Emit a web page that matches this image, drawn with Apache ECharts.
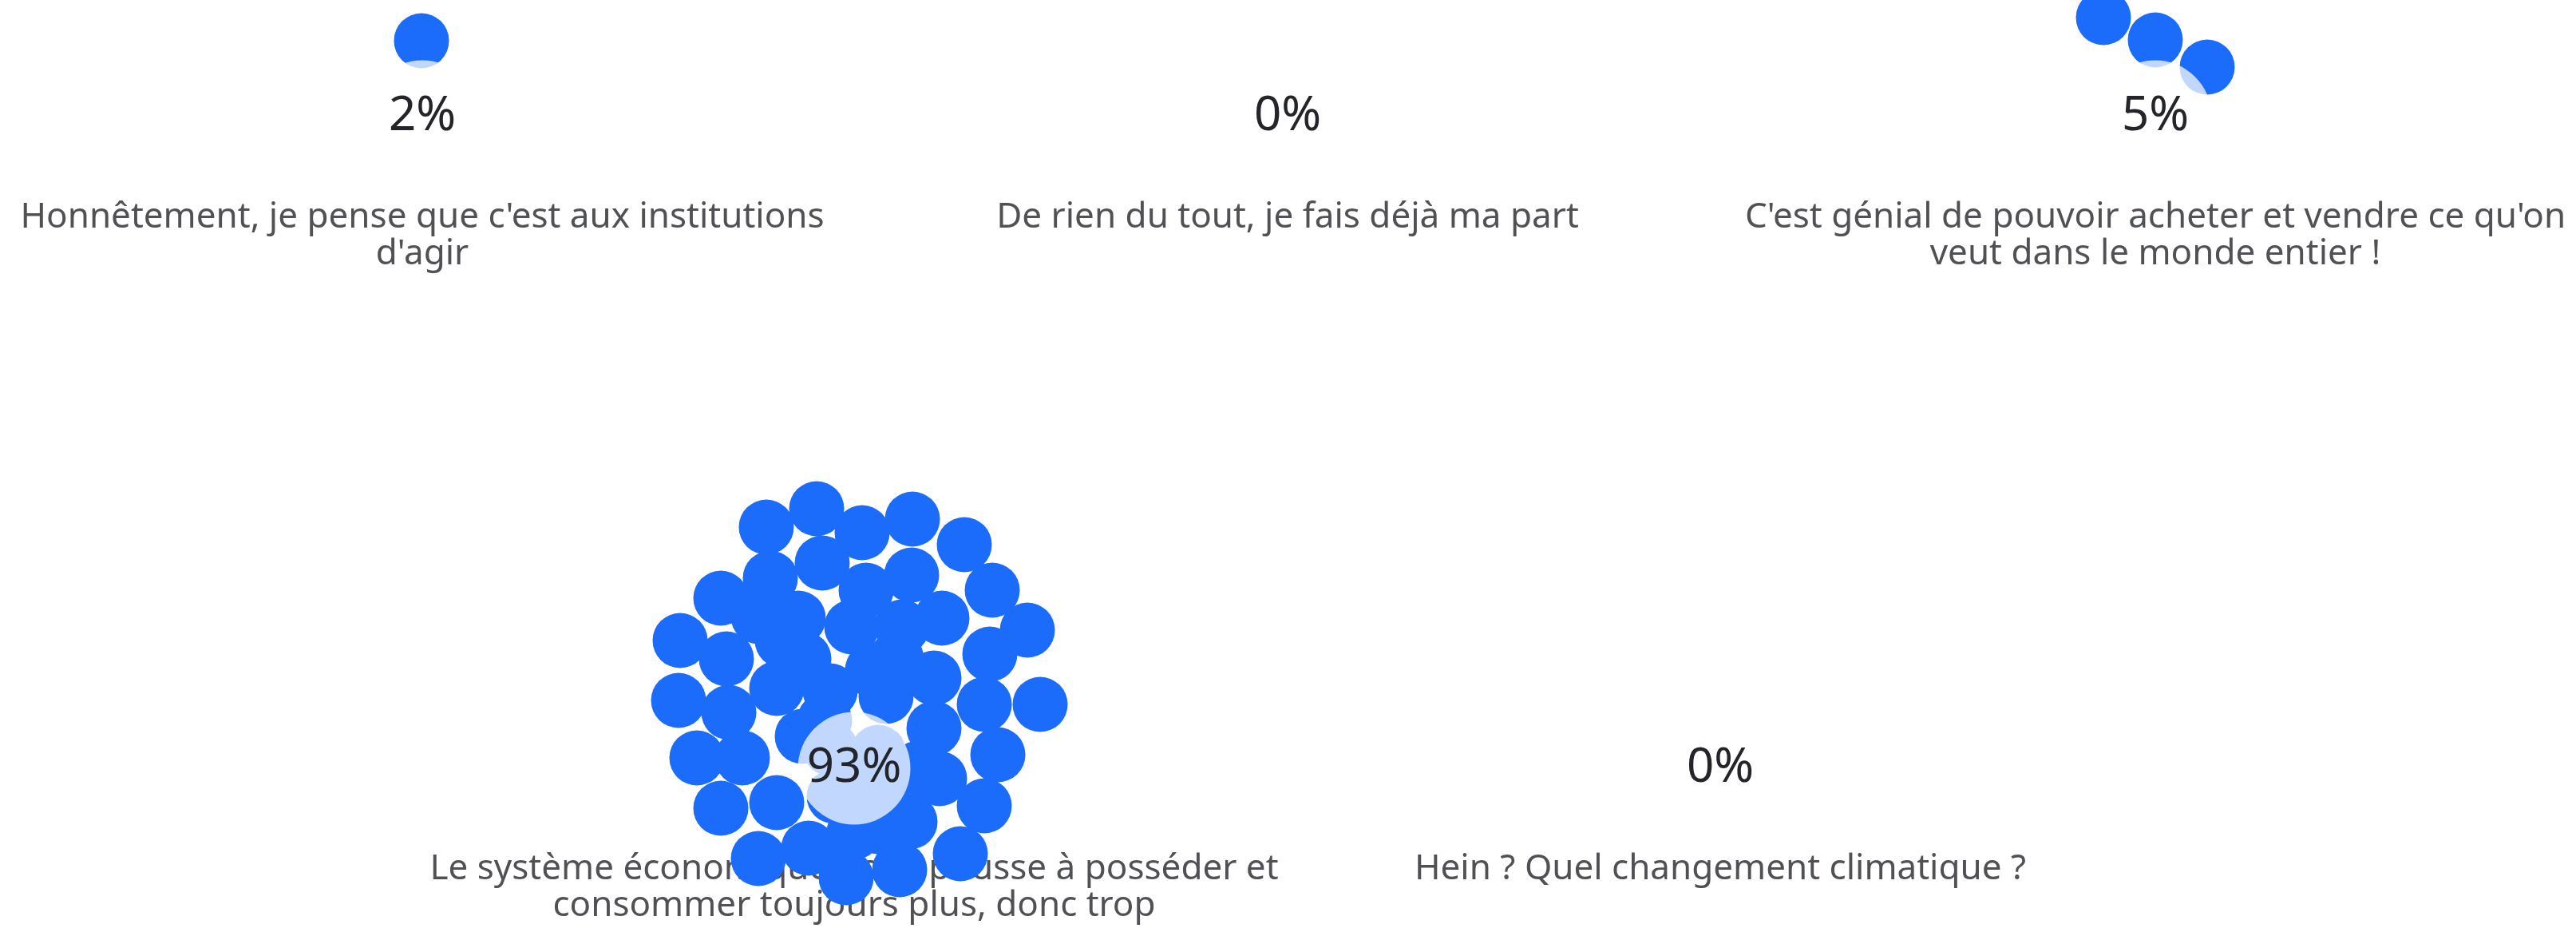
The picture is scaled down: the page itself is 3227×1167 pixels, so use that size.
<!DOCTYPE html>
<html>
<head>
<meta charset="utf-8">
<script src="https://cdn.jsdelivr.net/npm/echarts@6/dist/echarts.min.js"></script>
<style>
  html, body { margin: 0; padding: 0; background: #fff; }
  #chart { width: 3227px; height: 1167px; }
</style>
</head>
<body>
<div id="chart"></div>
<script>
// poll answers
const answers = [
  "Honnêtement, je pense que c'est aux institutions\nd'agir",
  "De rien du tout, je fais déjà ma part",
  "C'est génial de pouvoir acheter et vendre ce qu'on\nveut dans le monde entier !",
  "Le système économique nous pousse à posséder et\nconsommer toujours plus, donc trop",
  "Hein ? Quel changement climatique ?"
];
const percents = [2, 0, 5, 93, 0];
const votes = [1, 0, 3, 56, 0];

// one bubble per vote, offset from the percentage label
const bubbles0 = [[-1, -95]];
const bubbles1 = [];
const bubbles2 = [[-65, -124], [0, -96], [65, -62]];
const bubbles3 = [
  [-110, -302], [-47, -325], [10, -295], [73, -312], [138, -280],
  [-40, -257], [-105, -238], [72, -242], [173, -223], [-167, -213],
  [15, -223], [-120, -190], [-70, -188], [-3, -177], [60, -177],
  [110, -188], [217, -173], [-218, -160], [-160, -137], [-63, -137],
  [53, -137], [170, -143], [23, -123], [100, -113], [-97, -100],
  [-30, -97], [-220, -85], [-157, -70], [163, -80], [233, -80],
  [-37, -60], [100, -50], [-197, -13], [-140, -13], [180, -17],
  [107, 13], [-167, 50], [-97, 43], [163, 47], [70, 67],
  [30, 73], [-120, 113], [-57, 100], [133, 107], [-10, 137],
  [57, 127], [-30, -25], [30, -20], [-25, 35], [35, 35],
  [5, 5], [-65, -40], [80, 0], [0, 80], [40, -90], [-90, -160]
];
const bubbles4 = [];
const bubbleSets = [bubbles0, bubbles1, bubbles2, bubbles3, bubbles4];

// layout: where each answer's percentage sits
const centers = [[529, 146], [1613, 146], [2700, 146], [1070, 962], [2155, 962]];
const textGap = 126;
const lineH = 46;

const blue = '#1c6cfb';
const ink = '#23252b';
const font = "'Noto Sans', sans-serif";

const bubbleData = [];
bubbleSets.forEach((set, i) => {
  set.forEach(o => bubbleData.push([centers[i][0] + o[0], centers[i][1] + o[1]]));
});

const answerData = answers.map((a, i) => {
  const lines = a.split('\n').length;
  return [centers[i][0], centers[i][1] + textGap + (lines - 1) * lineH / 2, i];
});

const chart = echarts.init(document.getElementById('chart'));
chart.setOption({
  backgroundColor: '#fff',
  animation: false,
  grid: { left: 0, right: 0, top: 0, bottom: 0 },
  xAxis: { type: 'value', min: 0, max: 3227, show: false },
  yAxis: { type: 'value', min: 0, max: 1167, inverse: true, show: false },
  series: [
    {
      name: 'answers',
      type: 'scatter',
      z: 1,
      symbolSize: 1,
      itemStyle: { color: 'rgba(0,0,0,0)' },
      data: answerData,
      label: {
        show: true,
        position: 'inside',
        formatter: p => answers[p.value[2]],
        color: ink,
        fontFamily: font,
        fontSize: 44,
        lineHeight: lineH,
        align: 'center'
      },
      silent: true
    },
    {
      name: 'votes',
      type: 'scatter',
      z: 2,
      symbolSize: 69,
      itemStyle: { color: blue, opacity: 1 },
      data: bubbleData,
      silent: true
    },
    {
      name: 'percent',
      type: 'scatter',
      z: 3,
      symbolSize: 141,
      itemStyle: { color: 'rgba(255,255,255,0.73)', opacity: 1 },
      data: centers.map((c, i) => [c[0], c[1], i]),
      label: {
        show: true,
        position: 'inside',
        formatter: p => percents[p.value[2]] + '%',
        color: ink,
        fontFamily: font,
        fontSize: 60
      },
      silent: true
    }
  ]
});
</script>
</body>
</html>
